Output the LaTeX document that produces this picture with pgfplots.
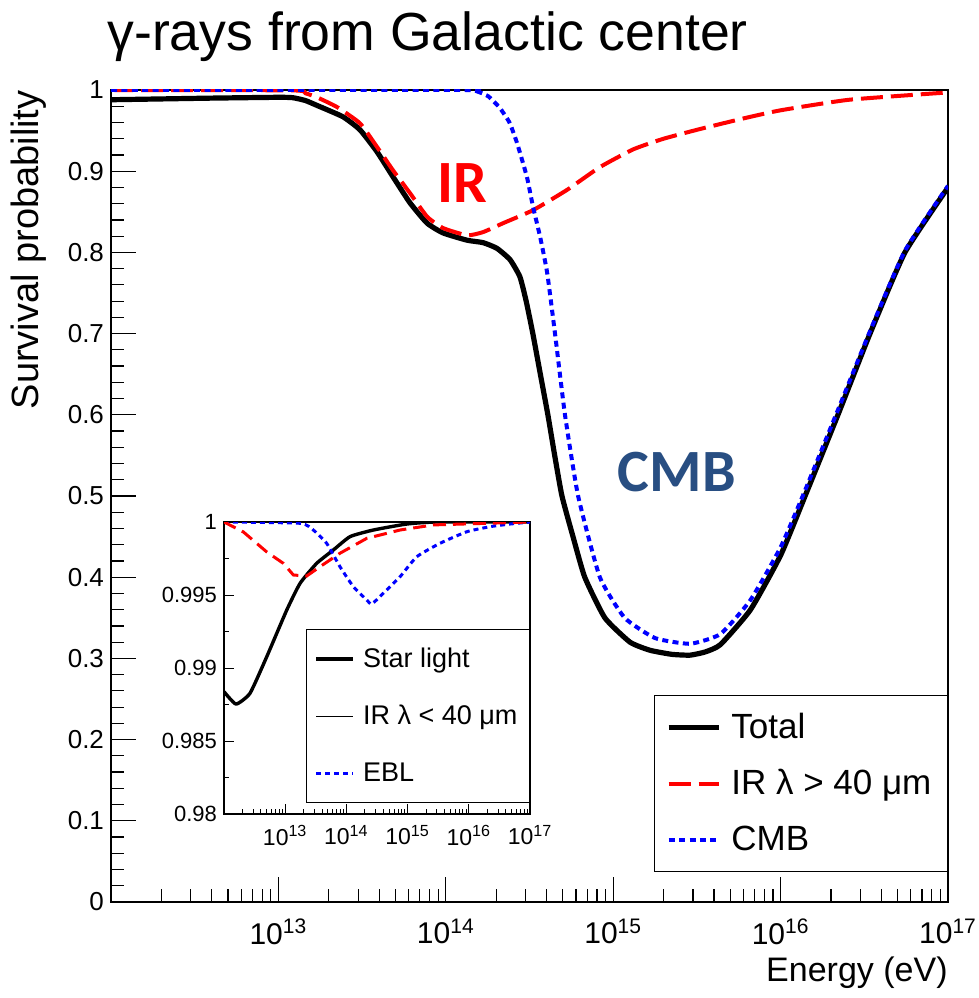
\documentclass[border=0pt]{standalone}
\usepackage{fontspec}
\setmainfont{Liberation Sans}
\newfontfamily\carlito{Carlito}
\usepackage{pgfplots}
\pgfplotsset{compat=1.18}
\definecolor{cmbblue}{RGB}{40,78,130}

\begin{document}
\begin{tikzpicture}[x=0.5pt,y=0.5pt]
\path[use as bounding box] (0,0) rectangle (979,998);

% title
\node[anchor=base west, inner sep=0pt, font=\fontsize{26.8}{32}\selectfont] at (107,947) {γ-rays from Galactic center};

% ---------------- main panel ----------------
\begin{axis}[
  at={(55.5pt,48pt)}, anchor=south west,
  scale only axis, width=418.5pt, height=406pt,
  xmode=log, xmin=1e12, xmax=1e17, ymin=0, ymax=1,
  axis line style={line width=0.7pt},
  xtick={1e13,1e14,1e15,1e16,1e17},
  xticklabels={10\textsuperscript{13},10\textsuperscript{14},10\textsuperscript{15},10\textsuperscript{16},10\textsuperscript{17}},
  minor xtick={2e12,3e12,4e12,5e12,6e12,7e12,8e12,9e12,
               2e13,3e13,4e13,5e13,6e13,7e13,8e13,9e13,
               2e14,3e14,4e14,5e14,6e14,7e14,8e14,9e14,
               2e15,3e15,4e15,5e15,6e15,7e15,8e15,9e15,
               2e16,3e16,4e16,5e16,6e16,7e16,8e16,9e16},
  ytick={0,0.1,0.2,0.3,0.4,0.5,0.6,0.7,0.8,0.9,1},
  yticklabels={0,0.1,0.2,0.3,0.4,0.5,0.6,0.7,0.8,0.9,1},
  minor y tick num=4,
  xtick pos=bottom, ytick pos=left,
  major tick length=12.5pt, minor tick length=6.25pt,
  tick style={black, line width=0.6pt},
  yticklabel style={font=\fontsize{13}{15}\selectfont},
  xticklabel style={font=\fontsize{15}{17}\selectfont, yshift=-5pt},
  xlabel={Energy (eV)},
  xlabel style={at={(rel axis cs:1,0)}, anchor=north east, inner sep=0pt, yshift=-27pt, font=\fontsize{17}{20}\selectfont},
  legend style={at={(1,0.037)}, anchor=south east, draw=black, line width=0.6pt, fill=white,
                inner xsep=6pt, inner ysep=7pt, row sep=10pt,
                font=\fontsize{17.5}{21}\selectfont,
                /tikz/every odd column/.append style={column sep=3pt}},
  legend cell align=left,
  legend image code/.code={\draw[#1] (0pt,0pt) -- (25pt,0pt);},
  clip=true,
]
% Total
\addplot[black, line width=2.6pt, line join=round, smooth, tension=0.3] coordinates {
(1e12,0.988) (2e12,0.989) (4e12,0.990) (1e13,0.991) (1.22e13,0.9905) (1.45e13,0.987)
(1.7e13,0.981) (2.43e13,0.967) (3.07e13,0.951) (3.88e13,0.924) (4.84e13,0.893)
(6.11e13,0.861) (7.73e13,0.836) (9.62e13,0.824) (1.34e14,0.815) (1.67e14,0.812)
(2.02e14,0.805) (2.42e14,0.791) (2.77e14,0.770) (3.02e14,0.740) (3.31e14,0.700)
(3.67e14,0.650) (4.07e14,0.600) (4.47e14,0.550) (4.94e14,0.500) (5.75e14,0.450)
(6.76e14,0.400) (8.91e14,0.350) (1.26e15,0.320) (1.66e15,0.310) (2.24e15,0.305)
(2.88e15,0.304) (3.55e15,0.308) (4.37e15,0.317) (6.61e15,0.360) (1e16,0.427)
(1.4e16,0.500) (2.2e16,0.600) (3.42e16,0.700) (5.53e16,0.800) (1e17,0.880)
};
\addlegendentry{Total}
% IR lambda > 40 um
\addplot[red, line width=2pt, dash pattern=on 11pt off 4pt, smooth, tension=0.3] coordinates {
(1e12,1.0) (1.22e13,0.9995) (1.45e13,0.996) (1.7e13,0.991) (2.24e13,0.979) (3.07e13,0.959)
(3.88e13,0.930) (4.84e13,0.901) (6.11e13,0.873) (7.73e13,0.844) (9.62e13,0.830)
(1.34e14,0.821) (1.67e14,0.825) (2.2e14,0.836) (3.32e14,0.852) (5.3e14,0.877)
(8.32e14,0.905) (1.32e15,0.927) (2e15,0.940) (3.31e15,0.952) (6e15,0.965)
(1e16,0.975) (2.57e16,0.988) (1e17,0.997)
};
\addlegendentry{IR λ > 40 μm}
% CMB
\addplot[blue, line width=2pt, dash pattern=on 3pt off 2.2pt, smooth, tension=0.3] coordinates {
(1e12,1.0) (1.3e14,1.0) (1.55e14,0.998) (1.8e14,0.992) (2.1e14,0.978) (2.4e14,0.960)
(2.66e14,0.935) (3.05e14,0.893) (3.32e14,0.856) (3.66e14,0.819) (4.03e14,0.775) (4.49e14,0.700)
(5.15e14,0.600) (6.17e14,0.500) (8.32e14,0.400) (1.17e15,0.350) (1.78e15,0.325)
(2.88e15,0.318) (4.37e15,0.330) (6.61e15,0.372) (1e16,0.437) (1.4e16,0.507)
(2.2e16,0.606) (3.42e16,0.703) (5.53e16,0.802) (1e17,0.882)
};
\addlegendentry{CMB}
\node[red, font=\carlito\bfseries\fontsize{30}{36}\selectfont] at (axis cs:1.25e14,0.885) {IR};
\node[cmbblue, font=\carlito\bfseries\fontsize{30}{36}\selectfont] at (axis cs:2.4e15,0.53) {CMB};
\end{axis}

% y-axis title, reading upwards and ending at the top of the frame
\node[rotate=90, anchor=south east, inner sep=0pt, font=\fontsize{19}{22}\selectfont] at (47,908) {Survival probability};

% ---------------- inset ----------------
\begin{axis}[
  at={(112pt,92pt)}, anchor=south west,
  scale only axis, width=153pt, height=146pt,
  xmode=log, xmin=1e12, xmax=1e17, ymin=0.98, ymax=1,
  axis background/.style={fill=white},
  axis line style={line width=0.6pt},
  xtick={1e13,1e14,1e15,1e16,1e17},
  xticklabels={10\textsuperscript{13},10\textsuperscript{14},10\textsuperscript{15},10\textsuperscript{16},10\textsuperscript{17}},
  minor xtick={2e12,3e12,4e12,5e12,6e12,7e12,8e12,9e12,
               2e13,3e13,4e13,5e13,6e13,7e13,8e13,9e13,
               2e14,3e14,4e14,5e14,6e14,7e14,8e14,9e14,
               2e15,3e15,4e15,5e15,6e15,7e15,8e15,9e15,
               2e16,3e16,4e16,5e16,6e16,7e16,8e16,9e16},
  ytick={0.98,0.985,0.99,0.995,1},
  yticklabels={0.98,0.985,0.99,0.995,1},
  minor y tick num=1,
  xtick pos=bottom, ytick pos=left,
  major tick length=5pt, minor tick length=2.5pt,
  tick style={black, line width=0.5pt},
  yticklabel style={font=\fontsize{11}{13}\selectfont},
  xticklabel style={font=\fontsize{11.5}{13}\selectfont, yshift=-2pt},
  legend style={at={(1,0.0377)}, anchor=south east, draw=black, line width=0.6pt, fill=white,
                inner xsep=4pt, inner ysep=7pt, row sep=13.5pt,
                font=\fontsize{13.5}{16}\selectfont,
                /tikz/every odd column/.append style={column sep=2pt}},
  legend cell align=left,
  legend image code/.code={\draw[#1] (0pt,0pt) -- (18.5pt,0pt);},
]
% Star light
\addplot[black, line width=1.7pt, line join=round, smooth, tension=0.3] coordinates {
(1e12,0.98838) (1.57e12,0.98753) (2.66e12,0.98827) (4.99e12,0.99077) (1.06e13,0.99397)
(1.75e13,0.99580) (3.27e13,0.99717) (6.11e13,0.99808) (1.15e14,0.99900) (2.75e14,0.99945)
(9.66e14,0.99986) (3e15,1.0) (1e17,1.0)
};
\addlegendentry{Star light}
% thin-line entry of the key
\addlegendimage{black, line width=0.6pt}
\addlegendentry{IR λ < 40 μm}
% EBL
\addplot[blue, line width=1.5pt, dash pattern=on 2.5pt off 2pt, smooth, tension=0.3] coordinates {
(1e12,1.0) (1.75e13,0.99991) (2.88e13,0.99945) (4.76e13,0.99854) (7.85e13,0.99694)
(1.3e14,0.99557) (2.15e14,0.99466) (2.59e14,0.99438) (4.01e14,0.99512) (7.52e14,0.99625)
(1.41e15,0.99762) (3.38e15,0.99854) (9.23e15,0.99933) (2.22e16,0.99968) (4.71e16,0.99986)
(1e17,1.0)
};
\addlegendentry{EBL}
% red dashed curve, not in the key
\addplot[red, line width=1.5pt, dash pattern=on 6.5pt off 3.5pt, forget plot] coordinates {
(1e12,1.0) (2.07e12,0.99932) (4.99e12,0.99795) (9.31e12,0.99717) (1.36e13,0.99637)
(2.24e13,0.99630) (3.71e13,0.99694) (7.85e13,0.99786) (2.15e14,0.99888) (7.52e14,0.99945)
(2.63e15,0.99980) (1e17,1.0)
};
\end{axis}
\end{tikzpicture}
\end{document}
